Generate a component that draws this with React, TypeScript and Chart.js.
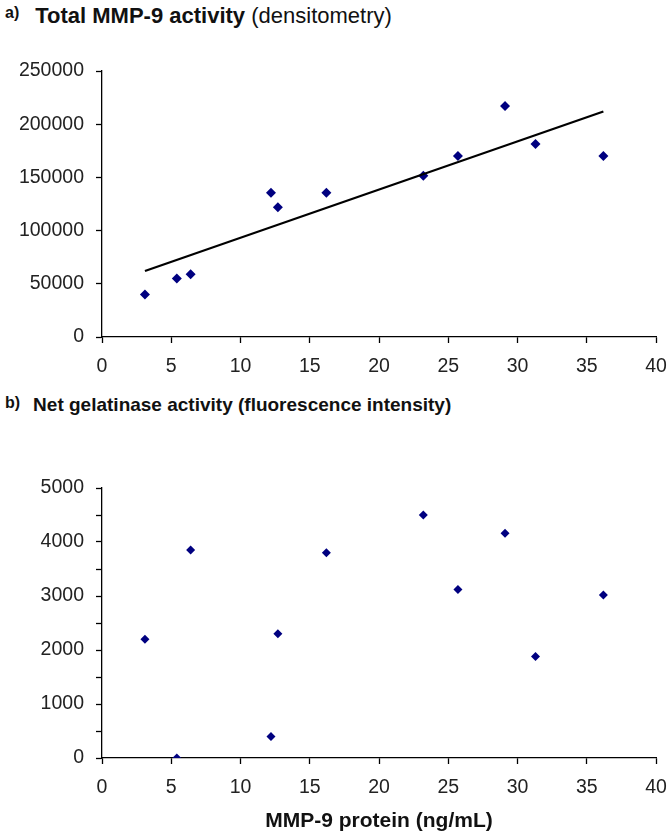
import React, { useEffect, useRef } from "react";
import { Chart, registerables } from "chart.js";

Chart.register(...registerables);

// ---- Data ----
const proteinX = [3.1, 5.4, 6.4, 12.2, 12.7, 16.2, 23.2, 25.7, 29.1, 31.3, 36.2];
const densitometryY = [40000, 55000, 59000, 135500, 122000, 135500, 151500, 170000, 217000, 181500, 170000];
const fluorescenceY = [2200, 0, 3850, 400, 2300, 3800, 4500, 3120, 4160, 1880, 3020];
const trendX = [3.1, 36.2];
const trendY = [62000, 212000];

const xTicks = [0, 5, 10, 15, 20, 25, 30, 35, 40];
const topYTicks = [0, 50000, 100000, 150000, 200000, 250000];
const bottomYTicks = [0, 1000, 2000, 3000, 4000, 5000];

const titleA = "Total MMP-9 activity";
const titleASub = "(densitometry)";
const titleB = "Net gelatinase activity (fluorescence intensity)";
const xAxisTitle = "MMP-9 protein (ng/mL)";

const FONT = "'Liberation Sans', Arial, Helvetica, sans-serif";
const NAVY = "#000080";
const TICK_SIZE = 19.5;

function pts(xs: number[], ys: number[]) {
  return xs.map((x, i) => ({ x, y: ys[i] }));
}

function axisX(showTitle: boolean, height: number) {
  return {
    type: "linear" as const,
    min: xTicks[0],
    max: xTicks[xTicks.length - 1],
    afterBuildTicks: (axis: any) => {
      axis.ticks = xTicks.map((v) => ({ value: v }));
    },
    afterFit: (axis: any) => {
      axis.height = height;
      axis.paddingLeft = 0;
      axis.paddingRight = 0;
    },
    border: { display: true, color: "#000", width: 1.3 },
    grid: { display: true, drawOnChartArea: false, drawTicks: true, tickLength: 6, color: "#000", tickWidth: 1.3 },
    ticks: { color: "#222", font: { family: FONT, size: TICK_SIZE }, padding: 12, maxRotation: 0, autoSkip: false },
    title: {
      display: showTitle,
      text: xAxisTitle,
      color: "#111",
      font: { family: FONT, size: 21, weight: "bold" as const },
      padding: { top: 4, bottom: 4 },
    },
  };
}

function axisY(max: number, step: number, labelEvery: number, width: number) {
  return {
    type: "linear" as const,
    min: 0,
    max,
    afterFit: (axis: any) => {
      axis.width = width;
    },
    border: { display: true, color: "#000", width: 1.3 },
    grid: { display: true, drawOnChartArea: false, drawTicks: true, tickLength: 6, color: "#000", tickWidth: 1.3 },
    ticks: {
      stepSize: step,
      autoSkip: false,
      color: "#222",
      font: { family: FONT, size: TICK_SIZE },
      padding: 12,
      callback: (v: any) => (Number(v) % labelEvery === 0 ? String(v) : ""),
    },
  };
}

export default function App() {
  const topRef = useRef<HTMLCanvasElement>(null);
  const botRef = useRef<HTMLCanvasElement>(null);

  useEffect(() => {
    const top = new Chart(topRef.current!, {
      type: "scatter",
      data: {
        datasets: [
          {
            label: "Densitometry",
            data: pts(proteinX, densitometryY),
            pointStyle: "rectRot",
            pointRadius: 5,
            backgroundColor: NAVY,
            borderColor: NAVY,
            borderWidth: 0,
            order: 2,
          },
          {
            label: "Trend",
            data: pts(trendX, trendY),
            showLine: true,
            pointRadius: 0,
            borderColor: "#000",
            borderWidth: 2.2,
            order: 1,
          } as any,
        ],
      },
      options: {
        animation: false,
        responsive: false,
        layout: { padding: { left: 0, right: 16, top: 31, bottom: 0 } },
        plugins: { legend: { display: false }, tooltip: { enabled: false }, title: { display: false } },
        scales: {
          x: axisX(false, 43),
          y: axisY(topYTicks[topYTicks.length - 1], topYTicks[1] - topYTicks[0], topYTicks[1] - topYTicks[0], 102),
        },
      } as any,
    });

    const bot = new Chart(botRef.current!, {
      type: "scatter",
      data: {
        datasets: [
          {
            label: "Fluorescence",
            data: pts(proteinX, fluorescenceY),
            pointStyle: "rectRot",
            pointRadius: 4.5,
            backgroundColor: NAVY,
            borderColor: NAVY,
            borderWidth: 0,
          },
        ],
      },
      options: {
        animation: false,
        responsive: false,
        layout: { padding: { left: 0, right: 16, top: 68, bottom: 0 } },
        plugins: { legend: { display: false }, tooltip: { enabled: false }, title: { display: false } },
        scales: {
          x: axisX(true, 80),
          y: axisY(bottomYTicks[bottomYTicks.length - 1], 500, bottomYTicks[1] - bottomYTicks[0], 102),
        },
      } as any,
    });

    return () => {
      top.destroy();
      bot.destroy();
    };
  }, []);

  const titleStyle: React.CSSProperties = {
    position: "absolute",
    fontFamily: FONT,
    fontWeight: "bold",
    color: "#111",
    whiteSpace: "nowrap",
    lineHeight: 1,
  };

  return (
    <div style={{ position: "fixed", left: 0, top: 0, width: 672, height: 839, background: "#fff", overflow: "hidden" }}>
      <div style={{ ...titleStyle, left: 5, top: 5, fontSize: 22 }}>
        <span style={{ fontSize: 16, marginRight: 16, verticalAlign: "top" }}>a)</span>
        {titleA} <span style={{ fontWeight: "normal" }}>{titleASub}</span>
      </div>
      <canvas ref={topRef} width={672} height={340} style={{ position: "absolute", left: 0, top: 40, width: 672, height: 340 }} />
      <div style={{ ...titleStyle, left: 5, top: 395, fontSize: 19 }}>
        <span style={{ fontSize: 16, marginRight: 13, verticalAlign: "top" }}>b)</span>
        {titleB}
      </div>
      <canvas ref={botRef} width={672} height={418} style={{ position: "absolute", left: 0, top: 420, width: 672, height: 418 }} />
    </div>
  );
}
